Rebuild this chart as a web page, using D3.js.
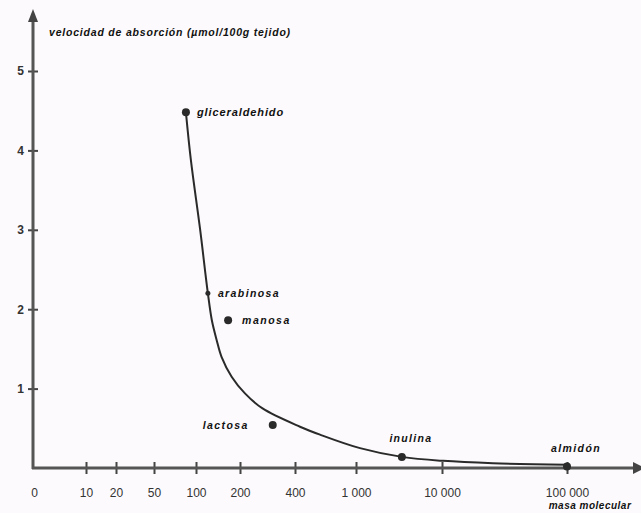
<!DOCTYPE html>
<html>
<head>
<meta charset="utf-8">
<script src="https://cdn.jsdelivr.net/npm/d3@7"></script>
<style>
  body { margin: 0; background: #fcfafc; }
  svg { display: block; }
  .lbl { font-family: "Liberation Sans", Arial, sans-serif; font-weight: bold; font-style: italic; fill: #111; }
</style>
</head>
<body>
<div id="chart"></div>
<script>
// eje x: masa molecular (escala no uniforme del dibujo original)
const massTicks = [0, 10, 20, 50, 100, 200, 400, 1000, 10000, 100000];
const velTicks = [1, 2, 3, 4, 5];

// puntos medidos
const sugars = ["gliceraldehido", "arabinosa", "manosa", "lactosa", "inulina", "almidón"];
const sugarMass = [88, 127, 173, 319, 5800, 100000];
const sugarVel = [4.48, 2.2, 1.86, 0.54, 0.14, 0.02];

// curva ajustada
const curveMass = [88, 94, 109, 127, 136, 147, 158, 181, 218, 282, 449, 646, 1420, 5800, 10700, 46700, 100000];
const curveVel = [4.48, 3.87, 3.02, 2.2, 1.86, 1.61, 1.4, 1.15, 0.94, 0.75, 0.52, 0.42, 0.25, 0.14, 0.09, 0.06, 0.04];

const W = 641, H = 513;

const svg = d3.select("#chart").append("svg")
    .attr("width", W)
    .attr("height", H);

// piecewise scale that copies the hand drawn axis spacing
const x = d3.scaleLinear()
    .domain(massTicks)
    .range([33, 86, 116, 154, 196, 240, 295, 356, 442, 567]);

const y = d3.scaleLinear()
    .domain([0, 5])
    .range([468, 71]);

const fmt = d3.formatLocale({ decimal: ",", thousands: " ", grouping: [3], currency: ["", ""] }).format(",d");

// x axis
const xAxis = svg.append("g")
    .attr("transform", `translate(0,${y(0)})`)
    .call(d3.axisBottom(x).tickValues(massTicks).tickFormat(fmt).tickSize(6).tickPadding(14));
xAxis.select(".domain").remove();
xAxis.selectAll(".tick line")
    .attr("y1", -6).attr("y2", 6)
    .attr("stroke", "#444").attr("stroke-width", 2)
    .filter(d => d === 0).remove();
xAxis.selectAll(".tick text")
    .attr("font-family", "Liberation Sans, Arial, sans-serif")
    .attr("font-size", 12)
    .attr("fill", "#333")
    .attr("dx", d => d === 0 ? 1 : 0);

// y axis
const yAxis = svg.append("g")
    .attr("transform", `translate(${x(0)},0)`)
    .call(d3.axisLeft(y).tickValues(velTicks).tickFormat(d3.format("d")).tickSize(5).tickPadding(4));
yAxis.select(".domain").remove();
yAxis.selectAll(".tick line")
    .attr("x1", -5).attr("x2", 5)
    .attr("stroke", "#444").attr("stroke-width", 2);
yAxis.selectAll(".tick text")
    .attr("font-family", "Liberation Sans, Arial, sans-serif")
    .attr("font-weight", "bold")
    .attr("font-size", 12)
    .attr("fill", "#333");

// axis lines with arrows
svg.append("path")
    .attr("d", `M${x(0)},${y(0) + 1}V20`)
    .attr("stroke", "#555").attr("stroke-width", 3).attr("fill", "none");
svg.append("path")
    .attr("d", `M${x(0) - 5},22L${x(0)},9L${x(0) + 5},22Z`)
    .attr("fill", "#444");
svg.append("path")
    .attr("d", `M${x(0) - 1},${y(0)}H${W}`)
    .attr("stroke", "#555").attr("stroke-width", 3).attr("fill", "none");
svg.append("path")
    .attr("d", `M${W - 8},${y(0) - 6}L${W + 4},${y(0)}L${W - 8},${y(0) + 6}Z`)
    .attr("fill", "#444");

// curve
const line = d3.line()
    .x(d => x(d[0]))
    .y(d => y(d[1]))
    .curve(d3.curveCatmullRom.alpha(0.5));

svg.append("path")
    .datum(curveMass.map((m, i) => [m, curveVel[i]]))
    .attr("d", line)
    .attr("fill", "none")
    .attr("stroke", "#2a2a2a")
    .attr("stroke-width", 2);

// points
const pts = sugars.map((s, i) => ({ name: s, mass: sugarMass[i], vel: sugarVel[i] }));

svg.selectAll("circle.pt")
    .data(pts)
    .enter().append("circle")
    .attr("class", "pt")
    .attr("cx", d => x(d.mass))
    .attr("cy", d => y(d.vel))
    .attr("r", (d, i) => i === 1 ? 2.5 : 4)
    .attr("fill", "#2a2a2a");

// [dx, dy, anchor, font size, letter spacing]
const lblOffsets = {
    "gliceraldehido": [11, 4, "start", 11, 0.9],
    "arabinosa": [10, 4, "start", 10.5, 1.4],
    "manosa": [14, 4, "start", 10.5, 1.5],
    "lactosa": [-24, 4, "end", 10.5, 1.4],
    "inulina": [9, -15, "middle", 10.5, 1.3],
    "almidón": [9, -14, "middle", 10.5, 1.4]
};

svg.selectAll("text.pt-lbl")
    .data(pts)
    .enter().append("text")
    .attr("class", "lbl pt-lbl")
    .attr("x", d => x(d.mass) + lblOffsets[d.name][0])
    .attr("y", d => y(d.vel) + lblOffsets[d.name][1])
    .attr("text-anchor", d => lblOffsets[d.name][2])
    .attr("font-size", d => lblOffsets[d.name][3])
    .attr("letter-spacing", d => lblOffsets[d.name][4])
    .text(d => d.name);

// axis titles
svg.append("text")
    .attr("class", "lbl")
    .attr("x", 49).attr("y", 36)
    .attr("font-size", 10.5)
    .attr("letter-spacing", 0.8)
    .text("velocidad de absorción (µmol/100g tejido)");

svg.append("text")
    .attr("class", "lbl")
    .attr("x", 590).attr("y", 509)
    .attr("text-anchor", "middle")
    .attr("font-size", 10)
    .attr("font-weight", "normal")
    .attr("letter-spacing", 0.5)
    .text("masa molecular");
</script>
</body>
</html>
